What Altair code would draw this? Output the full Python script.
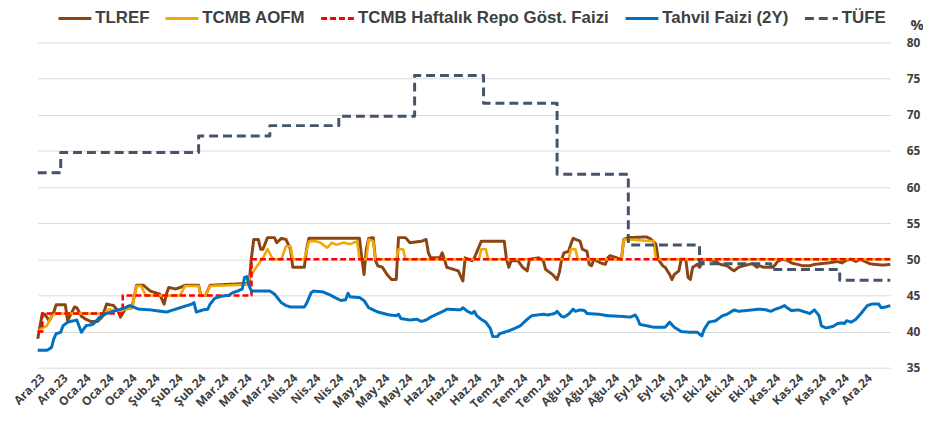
import altair as alt
import pandas as pd

# ---------------- data ----------------
series_names = ["TLREF", "TCMB AOFM", "TCMB Haftalık Repo Göst. Faizi", "Tahvil Faizi (2Y)", "TÜFE"]
series_colors = ["#8B4513", "#F2A900", "#FF0000", "#0070C0", "#44546A"]
series_dashes = [[1, 0], [1, 0], [6, 3], [1, 0], [9, 5]]

month_names = ["Oca", "Şub", "Mar", "Nis", "May", "Haz", "Tem", "Ağu", "Eyl", "Eki", "Kas", "Ara"]

tick_dates = [
    "2023-12-21", "2023-12-31", "2024-01-10", "2024-01-20", "2024-01-30", "2024-02-09",
    "2024-02-19", "2024-02-29", "2024-03-10", "2024-03-20", "2024-03-30", "2024-04-09",
    "2024-04-19", "2024-04-29", "2024-05-09", "2024-05-19", "2024-05-29", "2024-06-08",
    "2024-06-18", "2024-06-28", "2024-07-08", "2024-07-18", "2024-07-28", "2024-08-07",
    "2024-08-17", "2024-08-27", "2024-09-06", "2024-09-16", "2024-09-26", "2024-10-06",
    "2024-10-16", "2024-10-26", "2024-11-05", "2024-11-15", "2024-11-25", "2024-12-05",
    "2024-12-15",
]
y_ticks = [35, 40, 45, 50, 55, 60, 65, 70, 75, 80]
x_start = "2023-12-19"
x_end = "2024-12-24"

tlref = [
    ("2023-12-19", 39.0), ("2023-12-21", 42.5), ("2023-12-22", 42.4), ("2023-12-24", 41.5),
    ("2023-12-26", 42.7), ("2023-12-27", 43.7), ("2023-12-31", 43.7), ("2024-01-01", 41.5),
    ("2024-01-04", 43.4), ("2024-01-05", 43.3), ("2024-01-07", 42.1), ("2024-01-09", 41.7),
    ("2024-01-11", 41.4), ("2024-01-14", 41.4), ("2024-01-16", 42.0), ("2024-01-18", 43.8),
    ("2024-01-21", 43.6), ("2024-01-23", 42.8), ("2024-01-24", 42.0), ("2024-01-26", 43.1),
    ("2024-01-29", 43.3), ("2024-01-31", 46.4), ("2024-02-03", 46.4), ("2024-02-06", 45.6),
    ("2024-02-10", 45.2), ("2024-02-12", 43.8), ("2024-02-13", 45.2), ("2024-02-14", 46.1),
    ("2024-02-17", 45.9), ("2024-02-19", 46.1), ("2024-02-21", 46.4), ("2024-02-27", 46.4),
    ("2024-02-28", 45.0), ("2024-03-01", 45.0), ("2024-03-03", 46.4), ("2024-03-15", 46.6),
    ("2024-03-20", 46.7), ("2024-03-21", 50.2), ("2024-03-22", 52.75), ("2024-03-24", 52.75),
    ("2024-03-25", 51.4), ("2024-03-26", 51.4), ("2024-03-28", 53.0), ("2024-03-31", 53.0),
    ("2024-04-01", 52.3), ("2024-04-03", 52.9), ("2024-04-05", 52.75), ("2024-04-07", 51.4),
    ("2024-04-08", 48.9), ("2024-04-13", 48.9), ("2024-04-14", 51.4), ("2024-04-15", 52.9),
    ("2024-05-07", 52.9), ("2024-05-08", 50.2), ("2024-05-09", 47.9), ("2024-05-10", 51.4),
    ("2024-05-11", 52.9), ("2024-05-13", 53.0), ("2024-05-14", 49.8), ("2024-05-15", 49.1),
    ("2024-05-17", 48.9), ("2024-05-19", 47.9), ("2024-05-21", 47.2), ("2024-05-23", 47.2),
    ("2024-05-24", 53.0), ("2024-05-27", 53.0), ("2024-05-29", 52.3), ("2024-06-03", 52.5),
    ("2024-06-05", 52.75), ("2024-06-06", 50.9), ("2024-06-07", 50.2), ("2024-06-11", 50.2),
    ("2024-06-12", 50.9), ("2024-06-13", 50.0), ("2024-06-14", 48.9), ("2024-06-19", 48.4),
    ("2024-06-21", 47.0), ("2024-06-22", 50.2), ("2024-06-25", 49.8), ("2024-06-26", 50.2),
    ("2024-06-29", 52.5), ("2024-07-09", 52.5), ("2024-07-10", 50.0), ("2024-07-11", 48.9),
    ("2024-07-12", 49.8), ("2024-07-15", 49.8), ("2024-07-17", 48.9), ("2024-07-19", 48.4),
    ("2024-07-20", 50.0), ("2024-07-24", 50.2), ("2024-07-26", 49.8), ("2024-07-27", 48.6),
    ("2024-07-30", 47.9), ("2024-08-01", 47.2), ("2024-08-02", 48.2), ("2024-08-03", 50.0),
    ("2024-08-04", 50.9), ("2024-08-06", 51.1), ("2024-08-07", 52.1), ("2024-08-08", 52.9),
    ("2024-08-11", 52.5), ("2024-08-12", 51.4), ("2024-08-14", 51.1), ("2024-08-15", 49.3),
    ("2024-08-16", 49.1), ("2024-08-17", 50.0), ("2024-08-20", 49.5), ("2024-08-22", 49.3),
    ("2024-08-23", 50.2), ("2024-08-24", 50.5), ("2024-08-27", 50.2), ("2024-08-29", 50.0),
    ("2024-08-30", 52.75), ("2024-09-01", 53.0), ("2024-09-09", 53.1), ("2024-09-11", 52.75),
    ("2024-09-13", 52.1), ("2024-09-14", 50.0), ("2024-09-16", 49.1), ("2024-09-17", 48.9),
    ("2024-09-19", 47.9), ("2024-09-20", 47.2), ("2024-09-21", 47.9), ("2024-09-23", 48.4),
    ("2024-09-24", 50.0), ("2024-09-26", 50.0), ("2024-09-27", 47.5), ("2024-09-28", 47.2),
    ("2024-09-29", 48.9), ("2024-10-01", 49.3), ("2024-10-02", 48.9), ("2024-10-04", 50.0),
    ("2024-10-07", 49.9), ("2024-10-09", 49.7), ("2024-10-11", 49.3), ("2024-10-14", 49.1),
    ("2024-10-16", 48.6), ("2024-10-17", 48.4), ("2024-10-19", 48.9), ("2024-10-21", 49.1),
    ("2024-10-25", 49.4), ("2024-10-27", 48.9), ("2024-10-28", 49.1), ("2024-10-30", 48.9),
    ("2024-11-03", 48.9), ("2024-11-05", 49.7), ("2024-11-07", 50.0), ("2024-11-09", 49.9),
    ("2024-11-11", 49.5), ("2024-11-16", 49.1), ("2024-11-19", 49.1), ("2024-11-21", 49.3),
    ("2024-11-27", 49.5), ("2024-12-01", 49.7), ("2024-12-03", 49.5), ("2024-12-05", 49.9),
    ("2024-12-07", 50.0), ("2024-12-09", 49.7), ("2024-12-11", 50.0), ("2024-12-13", 49.7),
    ("2024-12-15", 49.4), ("2024-12-17", 49.3), ("2024-12-21", 49.2), ("2024-12-24", 49.3),
]

aofm = [
    ("2023-12-19", 40.0), ("2023-12-21", 40.5), ("2023-12-23", 40.8), ("2023-12-25", 42.2),
    ("2023-12-27", 42.5), ("2024-01-17", 42.5), ("2024-01-19", 43.1), ("2024-01-22", 42.9),
    ("2024-01-24", 42.8), ("2024-01-26", 43.1), ("2024-01-29", 43.3), ("2024-01-31", 46.3),
    ("2024-02-02", 46.3), ("2024-02-04", 45.0), ("2024-02-19", 45.0), ("2024-02-21", 46.3),
    ("2024-02-27", 46.3), ("2024-02-28", 45.0), ("2024-03-01", 45.0), ("2024-03-03", 46.3),
    ("2024-03-19", 46.5), ("2024-03-21", 47.9), ("2024-03-22", 48.4), ("2024-03-24", 49.3),
    ("2024-03-26", 50.2), ("2024-03-28", 51.4), ("2024-03-30", 50.2), ("2024-03-31", 50.0),
    ("2024-04-03", 50.0), ("2024-04-05", 51.8), ("2024-04-07", 51.8), ("2024-04-08", 50.0),
    ("2024-04-13", 50.0), ("2024-04-15", 52.5), ("2024-04-18", 52.5), ("2024-04-20", 52.3),
    ("2024-04-23", 51.6), ("2024-04-25", 52.3), ("2024-04-27", 52.0), ("2024-04-30", 52.3),
    ("2024-05-03", 52.1), ("2024-05-06", 52.5), ("2024-05-07", 50.0), ("2024-05-10", 50.0),
    ("2024-05-11", 52.75), ("2024-05-13", 52.5), ("2024-05-14", 50.0), ("2024-05-23", 50.0),
    ("2024-05-24", 51.4), ("2024-05-26", 51.4), ("2024-05-27", 50.0), ("2024-06-28", 50.0),
    ("2024-06-29", 51.4), ("2024-07-01", 51.4), ("2024-07-02", 50.0), ("2024-08-06", 50.0),
    ("2024-08-07", 51.4), ("2024-08-09", 51.4), ("2024-08-10", 50.0), ("2024-08-29", 50.0),
    ("2024-08-30", 52.75), ("2024-09-01", 52.75), ("2024-09-12", 52.5), ("2024-09-13", 50.0),
    ("2024-12-24", 50.0),
]

repo = [
    ("2023-12-19", 40.0), ("2023-12-21", 42.5), ("2024-01-25", 45.0), ("2024-03-21", 50.0),
    ("2024-12-24", 50.0),
]

bond = [
    ("2023-12-19", 37.4), ("2023-12-23", 37.4), ("2023-12-25", 37.8), ("2023-12-26", 39.0),
    ("2023-12-27", 39.7), ("2023-12-29", 39.9), ("2023-12-30", 40.8), ("2024-01-01", 41.3),
    ("2024-01-05", 41.6), ("2024-01-07", 39.9), ("2024-01-09", 40.8), ("2024-01-12", 41.0),
    ("2024-01-15", 42.0), ("2024-01-18", 42.5), ("2024-01-22", 42.9), ("2024-01-26", 43.3),
    ("2024-01-28", 43.6), ("2024-02-01", 43.1), ("2024-02-06", 43.0), ("2024-02-13", 42.7),
    ("2024-02-19", 43.3), ("2024-02-24", 43.8), ("2024-02-25", 44.0), ("2024-02-26", 42.7),
    ("2024-02-29", 43.0), ("2024-03-02", 43.1), ("2024-03-03", 43.8), ("2024-03-05", 44.6),
    ("2024-03-08", 44.9), ("2024-03-11", 45.0), ("2024-03-13", 45.4), ("2024-03-15", 45.6),
    ("2024-03-17", 45.9), ("2024-03-18", 47.5), ("2024-03-19", 47.6), ("2024-03-20", 46.3),
    ("2024-03-21", 45.6), ("2024-03-24", 45.6), ("2024-03-29", 45.6), ("2024-03-31", 45.2),
    ("2024-04-03", 44.0), ("2024-04-05", 43.6), ("2024-04-07", 43.4), ("2024-04-13", 43.4),
    ("2024-04-14", 43.9), ("2024-04-16", 45.4), ("2024-04-17", 45.6), ("2024-04-21", 45.5),
    ("2024-04-24", 45.1), ("2024-04-27", 44.6), ("2024-04-29", 44.3), ("2024-05-01", 44.4),
    ("2024-05-02", 45.3), ("2024-05-03", 44.8), ("2024-05-07", 44.7), ("2024-05-09", 44.3),
    ("2024-05-11", 43.3), ("2024-05-13", 43.0), ("2024-05-15", 42.7), ("2024-05-20", 42.3),
    ("2024-05-23", 42.2), ("2024-05-24", 42.4), ("2024-05-25", 41.8), ("2024-05-29", 41.6),
    ("2024-06-01", 41.7), ("2024-06-03", 41.4), ("2024-06-05", 41.6), ("2024-06-07", 42.0),
    ("2024-06-09", 42.3), ("2024-06-13", 42.9), ("2024-06-14", 43.1), ("2024-06-20", 43.0),
    ("2024-06-21", 43.3), ("2024-06-23", 42.8), ("2024-06-25", 42.5), ("2024-06-26", 42.8),
    ("2024-06-27", 42.2), ("2024-06-29", 41.7), ("2024-07-01", 41.3), ("2024-07-03", 40.4),
    ("2024-07-04", 39.3), ("2024-07-06", 39.3), ("2024-07-07", 39.7), ("2024-07-11", 40.1),
    ("2024-07-14", 40.5), ("2024-07-16", 40.8), ("2024-07-19", 41.7), ("2024-07-21", 42.2),
    ("2024-07-26", 42.4), ("2024-07-28", 42.3), ("2024-07-31", 42.5), ("2024-08-01", 42.8),
    ("2024-08-03", 42.1), ("2024-08-04", 42.0), ("2024-08-06", 42.4), ("2024-08-08", 43.1),
    ("2024-08-09", 42.8), ("2024-08-11", 43.0), ("2024-08-13", 42.9), ("2024-08-14", 42.5),
    ("2024-08-19", 42.4), ("2024-08-23", 42.2), ("2024-08-29", 42.1), ("2024-09-02", 42.0),
    ("2024-09-04", 42.3), ("2024-09-05", 41.8), ("2024-09-06", 41.0), ("2024-09-09", 40.8),
    ("2024-09-12", 40.6), ("2024-09-17", 40.6), ("2024-09-19", 41.3), ("2024-09-21", 40.6),
    ("2024-09-24", 40.0), ("2024-09-28", 39.9), ("2024-10-01", 39.9), ("2024-10-03", 39.4),
    ("2024-10-04", 40.3), ("2024-10-06", 41.3), ("2024-10-09", 41.5), ("2024-10-12", 42.2),
    ("2024-10-14", 42.4), ("2024-10-17", 43.0), ("2024-10-19", 42.8), ("2024-10-25", 43.0),
    ("2024-10-28", 43.1), ("2024-10-31", 43.0), ("2024-11-02", 42.8), ("2024-11-04", 43.1),
    ("2024-11-06", 43.3), ("2024-11-08", 43.6), ("2024-11-09", 43.3), ("2024-11-11", 42.9),
    ("2024-11-14", 43.0), ("2024-11-17", 42.7), ("2024-11-19", 42.5), ("2024-11-21", 43.0),
    ("2024-11-23", 42.2), ("2024-11-24", 40.8), ("2024-11-26", 40.5), ("2024-11-29", 40.7),
    ("2024-12-01", 41.1), ("2024-12-03", 41.2), ("2024-12-04", 41.1), ("2024-12-05", 41.5),
    ("2024-12-07", 41.3), ("2024-12-09", 41.7), ("2024-12-11", 42.4), ("2024-12-14", 43.6),
    ("2024-12-16", 43.8), ("2024-12-19", 43.8), ("2024-12-20", 43.3), ("2024-12-22", 43.4),
    ("2024-12-24", 43.6),
]

cpi = [
    ("2023-12-19", 61.98), ("2023-12-29", 64.77), ("2024-02-27", 67.07), ("2024-03-29", 68.50),
    ("2024-04-28", 69.80), ("2024-05-31", 75.45), ("2024-06-30", 71.60), ("2024-08-01", 61.78),
    ("2024-09-01", 51.97), ("2024-10-02", 49.38), ("2024-11-02", 48.58), ("2024-12-02", 47.09),
    ("2024-12-24", 47.09),
]

# ---------------- helpers ----------------
def frame(name, pairs):
    return pd.DataFrame({
        "date": pd.to_datetime([p[0] for p in pairs]),
        "value": [p[1] for p in pairs],
        "series": name,
    })


def dt(s):
    t = pd.Timestamp(s)
    return alt.DateTime(year=t.year, month=t.month, date=t.day)


month_js = "[" + ",".join("'" + m + "'" for m in month_names) + "]"
label_expr = month_js + "[month(datum.value)] + '.' + timeFormat(datum.value, '%y')"

x_enc = alt.X(
    "date:T",
    scale=alt.Scale(domain=[dt(x_start), dt(x_end)]),
    axis=alt.Axis(
        values=[dt(d) for d in tick_dates],
        labelExpr=label_expr,
        labelAngle=-45,
        labelAlign="right",
        labelBaseline="middle",
        labelPadding=8,
        labelOverlap=False,
        labelFont="Open Sans",
        labelFontSize=12,
        labelFontWeight="bold",
        labelColor="#404040",
        grid=False,
        domain=False,
        ticks=False,
        title=None,
    ),
)

y_enc = alt.Y(
    "value:Q",
    scale=alt.Scale(domain=[35, 80]),
    axis=alt.Axis(
        orient="right",
        values=y_ticks,
        grid=True,
        gridColor="#D9D9D9",
        gridWidth=1,
        domain=False,
        ticks=False,
        labelPadding=16,
        labelFont="Open Sans",
        labelFontSize=12,
        labelFontWeight="bold",
        labelColor="#404040",
        title="%",
        titleAngle=0,
        titleX=20,
        titleY=-18,
        titleAlign="left",
        titleBaseline="middle",
        titleFont="Open Sans",
        titleFontSize=15,
        titleFontWeight="bold",
        titleColor="#404040",
    ),
)

legend = alt.Legend(
    title=None,
    orient="none",
    legendX=19,
    legendY=-43,
    direction="horizontal",
    symbolType="stroke",
    symbolSize=1100,
    symbolStrokeWidth=3,
    labelFont="Liberation Sans",
    labelFontSize=17,
    labelFontWeight="bold",
    labelColor="#404040",
    labelOffset=2,
    columnPadding=9,
    labelLimit=400,
)

color_enc = alt.Color("series:N", scale=alt.Scale(domain=series_names, range=series_colors), legend=legend)
dash_enc = alt.StrokeDash("series:N", scale=alt.Scale(domain=series_names, range=series_dashes), legend=legend)


def layer(name, pairs, width, interp):
    return alt.Chart(frame(name, pairs)).mark_line(
        strokeWidth=width, interpolate=interp, strokeJoin="round"
    ).encode(x=x_enc, y=y_enc, color=color_enc, strokeDash=dash_enc)


chart = alt.layer(
    layer("TLREF", tlref, 3, "linear"),
    layer("TCMB AOFM", aofm, 2.6, "linear"),
    layer("TCMB Haftalık Repo Göst. Faizi", repo, 2.6, "step-after"),
    layer("Tahvil Faizi (2Y)", bond, 3, "linear"),
    layer("TÜFE", cpi, 3, "step-after"),
).properties(
    width=860,
    height=328,
    padding={"left": 30, "top": 33, "right": 33, "bottom": 59},
    autosize=alt.AutoSizeParams(type="none"),
    background="white",
).configure_view(stroke="transparent")

chart.save("out.html", embed_options={"renderer": "svg", "actions": False})
